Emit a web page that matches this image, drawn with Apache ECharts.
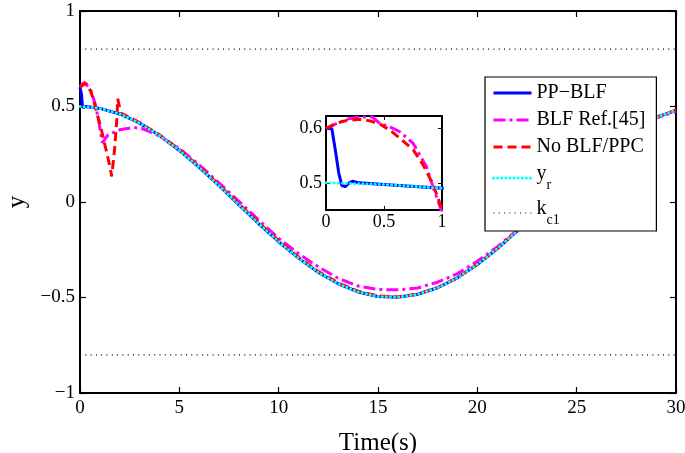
<!DOCTYPE html>
<html>
<head>
<meta charset="utf-8">
<script src="https://cdn.jsdelivr.net/npm/echarts@6/dist/echarts.min.js"></script>
<style>
html,body{margin:0;padding:0;background:#fff;}
#chart{width:685px;height:453px;}
</style>
</head>
<body>
<div id="chart"></div>
<script>
// ---- data (t in s, y) ----
const xTicks = [0, 5, 10, 15, 20, 25, 30];
const yTicks = [-1, -0.5, 0, 0.5, 1];
const legendNames = ['PP−BLF', 'BLF Ref.[45]', 'No BLF/PPC', 'y_r', 'k_c1'];

const yrData = [[0,0.5],[0.5,0.497],[1,0.49],[2,0.461],[3,0.413],[4,0.348],[5,0.27],[6,0.181],[7,0.085],[8,-0.015],[9,-0.114],[10,-0.208],[11,-0.294],[12,-0.369],[13,-0.428],[14,-0.471],[15,-0.495],[16,-0.499],[17,-0.483],[18,-0.449],[19,-0.397],[20,-0.327],[21,-0.245],[22,-0.153],[23,-0.056],[24,0.043],[25,0.142],[26,0.234],[27,0.318],[28,0.388],[29,0.443],[30,0.48]];

const ppBlfData = [[0,0.6],[0.05,0.6],[0.08,0.561],[0.11,0.518],[0.137,0.495],[0.166,0.493],[0.194,0.499],[0.231,0.503],[0.28,0.5],[0.5,0.497],[1,0.49],[2,0.461],[3,0.413],[4,0.348],[5,0.27],[6,0.181],[7,0.085],[8,-0.015],[9,-0.114],[10,-0.208],[11,-0.294],[12,-0.369],[13,-0.428],[14,-0.471],[15,-0.495],[16,-0.499],[17,-0.483],[18,-0.449],[19,-0.397],[20,-0.327],[21,-0.245],[22,-0.153],[23,-0.056],[24,0.043],[25,0.142],[26,0.234],[27,0.318],[28,0.388],[29,0.443],[30,0.48]];

const blfRefData = [[0,0.6],[0.1,0.615],[0.2,0.626],[0.3,0.622],[0.49,0.597],[0.6,0.57],[0.8,0.5],[0.95,0.42],[1.12,0.31],[1.42,0.352],[2,0.378],[2.67,0.39],[3.09,0.386],[3.5,0.368],[4,0.345],[5,0.28],[6,0.195],[7,0.1],[8,0.003],[9,-0.095],[10,-0.19],[11,-0.27],[12,-0.34],[13,-0.4],[14,-0.44],[15,-0.458],[16,-0.46],[17,-0.45],[18,-0.42],[19,-0.375],[20,-0.31],[21,-0.235],[22,-0.148],[23,-0.054],[24,0.042],[25,0.14],[26,0.232],[27,0.316],[28,0.386],[29,0.44],[30,0.475]];

const noBlfData = [[0,0.6],[0.03,0.61],[0.28,0.623],[0.54,0.58],[0.7,0.527],[0.87,0.457],[1.04,0.396],[1.21,0.318],[1.37,0.248],[1.54,0.169],[1.59,0.134],[1.68,0.213],[1.76,0.3],[1.85,0.43],[1.9,0.54],[2.05,0.466],[3,0.416],[4,0.352],[5,0.275],[6,0.186],[7,0.09],[8,-0.01],[9,-0.108],[10,-0.202],[11,-0.289],[12,-0.364],[13,-0.424],[14,-0.467],[15,-0.492],[16,-0.497],[17,-0.482],[18,-0.448],[19,-0.396],[20,-0.326],[21,-0.244],[22,-0.152],[23,-0.055],[24,0.044],[25,0.143],[26,0.235],[27,0.319],[28,0.389],[29,0.444],[30,0.481]];

const kc1Upper = [[0,0.8],[30,0.8]];
const kc1Lower = [[0,-0.8],[30,-0.8]];

// inset (zoom of 0..1 s)
const insetXTicks = [0, 0.5, 1];
const insetYTicks = [0.5, 0.6];
const blfRefZoom = [[0,0.6],[0.1,0.61],[0.2,0.618],[0.3,0.621],[0.4,0.621],[0.466,0.609],[0.55,0.603],[0.637,0.594],[0.75,0.573],[0.866,0.53],[0.93,0.488],[0.98,0.458],[1.0,0.445]];
const noBlfZoom = [[0,0.6],[0.08,0.609],[0.18,0.615],[0.294,0.617],[0.38,0.614],[0.466,0.608],[0.551,0.597],[0.637,0.582],[0.751,0.561],[0.837,0.533],[0.923,0.497],[0.994,0.455],[1.0,0.45]];

// ---- chart ----
const SERIF = '"Liberation Serif","DejaVu Serif",serif';
const chart = echarts.init(document.getElementById('chart'), null, {renderer: 'canvas'});

const fmtNum = v => (v < 0 ? '−' : '') + String(Math.abs(+v.toFixed(3)));

const styles = {
  blue:    {color: '#0000ff', width: 3, type: 'solid'},
  magenta: {color: '#ff00ff', width: 3, type: [12, 4, 3, 4]},
  red:     {color: '#ff0000', width: 3, type: [9, 5]},
  cyan:    {color: '#00ffff', width: 3, type: [0.1, 4], cap: 'round'},
  kc:      {color: '#000000', width: 1.2, type: [1, 4.3]}
};
const legendStyleOf = [styles.blue, styles.magenta, styles.red, styles.cyan, styles.kc];

function line(name, data, st, xi, yi) {
  return {
    name: name, type: 'line', data: data, xAxisIndex: xi, yAxisIndex: yi,
    symbol: 'none', showSymbol: false, animation: false, clip: true,
    color: st.color,
    lineStyle: {color: st.color, width: st.width, type: st.type, cap: st.cap || 'butt'},
    emphasis: {disabled: true}
  };
}

const axisLineStyle = {onZero: false, lineStyle: {color: '#000', width: 2}};
const mainTick = {inside: true, length: 6, lineStyle: {color: '#000', width: 1.2}};
const insetTick = {inside: true, length: 4, lineStyle: {color: '#000', width: 1}};

const option = {
  backgroundColor: '#fff',
  animation: false,
  grid: [
    {left: 80, top: 11, right: 9, bottom: 60, outerBoundsMode: 'none', containLabel: false},
    {left: 326, top: 116, width: 116, height: 94, outerBoundsMode: 'none', containLabel: false,
     backgroundColor: '#fff', show: true, borderWidth: 0}
  ],
  legend: {
    data: legendNames.map((n, i) => ({
      name: n,
      lineStyle: {width: legendStyleOf[i].width, type: legendStyleOf[i].type,
                  color: legendStyleOf[i].color, cap: legendStyleOf[i].cap || 'butt'}
    })),
    orient: 'vertical',
    left: 485, top: 77,
    backgroundColor: '#fff',
    borderColor: '#000', borderWidth: 1.2,
    padding: [6, 11, 4, 7],
    itemWidth: 38, itemHeight: 14, itemGap: 7,
    selectedMode: false,
    itemStyle: {color: 'rgba(0,0,0,0)', opacity: 0, borderWidth: 0},
    textStyle: {
      fontFamily: SERIF, fontSize: 20, color: '#000', padding: [0, 0, 0, 0],
      rich: {
        m: {fontFamily: SERIF, fontSize: 20, color: '#000', verticalAlign: 'top', lineHeight: 20},
        s: {fontFamily: SERIF, fontSize: 14, color: '#000', verticalAlign: 'top', padding: [14, 0, 0, 0]}
      }
    },
    formatter: function (n) {
      if (n === 'y_r') return '{m|y}{s|r}';
      if (n === 'k_c1') return '{m|k}{s|c1}';
      return '{m|' + n + '}';
    },
    z: 10
  },
  xAxis: [
    {gridIndex: 0, type: 'value', min: 0, max: 30, interval: 5, position: 'bottom',
     axisLine: axisLineStyle, axisTick: mainTick, splitLine: {show: false},
     axisLabel: {fontFamily: SERIF, fontSize: 19, color: '#000', margin: 6, formatter: v => fmtNum(v)},
     name: 'Time(s)', nameLocation: 'middle', nameGap: 38,
     nameTextStyle: {fontFamily: SERIF, fontSize: 25, color: '#000'}},
    {gridIndex: 0, type: 'value', min: 0, max: 30, interval: 5, position: 'top',
     axisLine: axisLineStyle, axisTick: mainTick, splitLine: {show: false}, axisLabel: {show: false}},
    {gridIndex: 1, type: 'value', min: 0, max: 1, interval: 0.5, position: 'bottom',
     axisLine: axisLineStyle, axisTick: insetTick, splitLine: {show: false},
     axisLabel: {fontFamily: SERIF, fontSize: 18, color: '#000', margin: 3, formatter: v => fmtNum(v)}},
    {gridIndex: 1, type: 'value', min: 0, max: 1, interval: 0.5, position: 'top',
     axisLine: axisLineStyle, axisTick: insetTick, splitLine: {show: false}, axisLabel: {show: false}}
  ],
  yAxis: [
    {gridIndex: 0, type: 'value', min: -1, max: 1, interval: 0.5, position: 'left',
     axisLine: axisLineStyle, axisTick: mainTick, splitLine: {show: false},
     axisLabel: {fontFamily: SERIF, fontSize: 19, color: '#000', margin: 5, formatter: v => fmtNum(v)},
     name: 'y', nameLocation: 'middle', nameGap: 50,
     nameTextStyle: {fontFamily: SERIF, fontSize: 25, color: '#000'}},
    {gridIndex: 0, type: 'value', min: -1, max: 1, interval: 0.5, position: 'right',
     axisLine: axisLineStyle, axisTick: mainTick, splitLine: {show: false}, axisLabel: {show: false}},
    {gridIndex: 1, type: 'value', min: 0.45, max: 0.623, position: 'left',
     axisLine: axisLineStyle, axisTick: Object.assign({customValues: insetYTicks}, insetTick), splitLine: {show: false},
     axisLabel: {customValues: insetYTicks, fontFamily: SERIF, fontSize: 18, color: '#000', margin: 4, formatter: v => fmtNum(v)}},
    {gridIndex: 1, type: 'value', min: 0.45, max: 0.623, position: 'right',
     axisLine: axisLineStyle, axisTick: Object.assign({customValues: insetYTicks}, insetTick), splitLine: {show: false}, axisLabel: {show: false}}
  ],
  series: [
    line('PP−BLF', ppBlfData, styles.blue, 0, 0),
    line('BLF Ref.[45]', blfRefData, styles.magenta, 0, 0),
    line('No BLF/PPC', noBlfData, styles.red, 0, 0),
    line('y_r', yrData, styles.cyan, 0, 0),
    line('k_c1', kc1Upper, styles.kc, 0, 0),
    line('k_c1', kc1Lower, styles.kc, 0, 0),
    line('inset PP−BLF', ppBlfData, styles.blue, 2, 2),
    line('inset BLF Ref.[45]', blfRefZoom, styles.magenta, 2, 2),
    line('inset No BLF/PPC', noBlfZoom, styles.red, 2, 2),
    line('inset y_r', yrData, styles.cyan, 2, 2)
  ]
};
chart.setOption(option);
</script>
</body>
</html>
